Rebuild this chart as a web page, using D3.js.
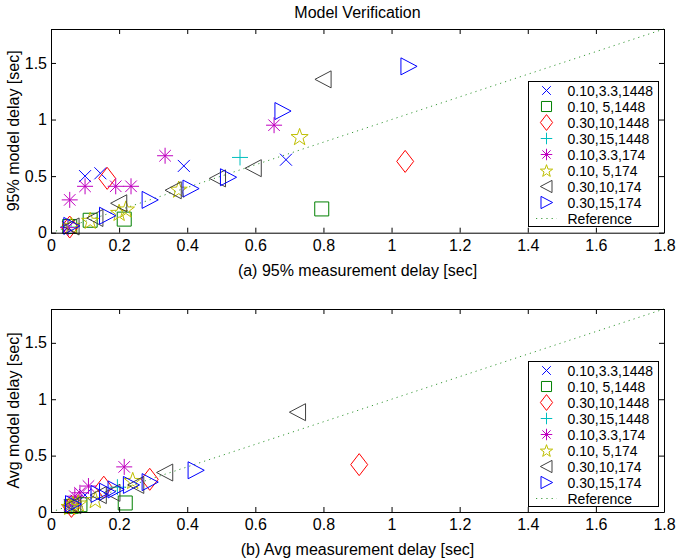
<!DOCTYPE html>
<html>
<head>
<meta charset="utf-8">
<script src="https://cdn.jsdelivr.net/npm/d3@7"></script>
<style>
body { margin: 0; background: #fff; }
svg { display: block; font-family: "Liberation Sans", Arial, sans-serif; }
</style>
</head>
<body>
<svg id="fig" width="677" height="559"></svg>
<script>
var svg = d3.select('#fig')

var names = ["0.10,3.3,1448", "0.10, 5,1448", "0.30,10,1448", "0.30,15,1448",
    "0.10,3.3,174", "0.10, 5,174", "0.30,10,174", "0.30,15,174"]
var colors = ["#0000ff", "#008000", "#ff0000", "#00bfbf", "#bf00bf", "#bfbf00", "#404040", "#0000ff"]
var shapes = ["x", "s", "d", "+", "*", "p", "<", ">"]
var xTicks = [0, 0.2, 0.4, 0.6, 0.8, 1, 1.2, 1.4, 1.6, 1.8]
var yTicks = [0, 0.5, 1, 1.5]
var refLine = [0, 1.8]

// (a) 95% delays, one list per series
var meas95 = [
    [0.05, 0.10, 0.145, 0.39, 0.69],
    [0.055, 0.115, 0.215, 0.795],
    [0.055, 0.165, 1.04],
    [0.05, 0.555],
    [0.05, 0.055, 0.10, 0.19, 0.235, 0.335, 0.655],
    [0.06, 0.115, 0.20, 0.22, 0.375, 0.73],
    [0.06, 0.13, 0.20, 0.36, 0.49, 0.595, 0.80],
    [0.06, 0.165, 0.29, 0.41, 0.52, 0.68, 1.05]
]
var model95 = [
    [0.05, 0.50, 0.525, 0.59, 0.645],
    [0.055, 0.11, 0.12, 0.21],
    [0.05, 0.48, 0.63],
    [0.05, 0.665],
    [0.045, 0.29, 0.41, 0.41, 0.41, 0.68, 0.95],
    [0.065, 0.11, 0.18, 0.21, 0.385, 0.85],
    [0.055, 0.13, 0.26, 0.375, 0.48, 0.57, 1.355],
    [0.06, 0.15, 0.29, 0.39, 0.49, 1.075, 1.47]
]

// (b) average delays
var measAvg = [
    [0.06, 0.075, 0.10],
    [0.06, 0.085, 0.218],
    [0.06, 0.155, 0.29, 0.905],
    [0.06, 0.195],
    [0.055, 0.07, 0.085, 0.11, 0.215],
    [0.055, 0.065, 0.08, 0.13, 0.24],
    [0.065, 0.14, 0.18, 0.25, 0.335, 0.725],
    [0.065, 0.14, 0.165, 0.19, 0.235, 0.29, 0.425]
]
var modelAvg = [
    [0.06, 0.10, 0.15],
    [0.05, 0.065, 0.08],
    [0.05, 0.22, 0.29, 0.42],
    [0.06, 0.22],
    [0.06, 0.14, 0.17, 0.23, 0.40],
    [0.05, 0.07, 0.08, 0.11, 0.28],
    [0.06, 0.15, 0.17, 0.24, 0.35, 0.885],
    [0.07, 0.16, 0.18, 0.20, 0.24, 0.265, 0.37]
]

// matlab-like marker outlines, size = half width in px
var markerType = {
    "x": { draw: function (c, r) { c.moveTo(-r, -r); c.lineTo(r, r); c.moveTo(-r, r); c.lineTo(r, -r) } },
    "s": { draw: function (c, r) { c.rect(-r, -r, 2 * r, 2 * r) } },
    "d": { draw: function (c, r) { var w = r * 0.77; c.moveTo(0, -r); c.lineTo(w, 0); c.lineTo(0, r); c.lineTo(-w, 0); c.closePath() } },
    "+": { draw: function (c, r) { c.moveTo(-r, 0); c.lineTo(r, 0); c.moveTo(0, -r); c.lineTo(0, r) } },
    "*": { draw: function (c, r) {
        var k = r * 0.72
        c.moveTo(-r, 0); c.lineTo(r, 0); c.moveTo(0, -r); c.lineTo(0, r)
        c.moveTo(-k, -k); c.lineTo(k, k); c.moveTo(-k, k); c.lineTo(k, -k)
    } },
    "p": { draw: function (c, r) {
        for (var i = 0; i < 10; i++) {
            var a = -Math.PI / 2 + i * Math.PI / 5, rr = i % 2 ? r * 0.4 : r
            if (i == 0) c.moveTo(rr * Math.cos(a), rr * Math.sin(a) + r * 0.1)
            else c.lineTo(rr * Math.cos(a), rr * Math.sin(a) + r * 0.1)
        }
        c.closePath()
    } },
    "<": { draw: function (c, r) { c.moveTo(-r, 0); c.lineTo(r * 0.9, -r); c.lineTo(r * 0.9, r); c.closePath() } },
    ">": { draw: function (c, r) { c.moveTo(r, 0); c.lineTo(-r * 0.9, -r); c.lineTo(-r * 0.9, r); c.closePath() } }
}
var markerR = { "x": 6, "s": 7, "d": 11, "+": 8, "*": 8, "p": 9, "<": 8.5, ">": 8.5 }

function drawPanel(cfg) {
    var x = d3.scaleLinear().domain([0, 1.8]).range([51, 664])
    var y = d3.scaleLinear().domain([0, 1.8]).range([cfg.bottom, cfg.top])
    var g = svg.append("g")

    g.append("line")
        .attr("x1", x(refLine[0])).attr("y1", y(refLine[0]))
        .attr("x2", x(refLine[1])).attr("y2", y(refLine[1]))
        .attr("stroke", "#3a9a3a")
        .attr("stroke-width", 1)
        .attr("stroke-dasharray", "1.2,4")

    names.forEach(function (n, i) {
        g.selectAll(null)
            .data(d3.zip(cfg.xs[i], cfg.ys[i]))
            .enter()
            .append("path")
            .attr("transform", function (d) { return "translate(" + x(d[0]) + "," + y(d[1]) + ")" })
            .attr("d", d3.symbol().type(markerType[shapes[i]]).size(markerR[shapes[i]]))
            .attr("fill", "none")
            .attr("stroke", colors[i])
            .attr("stroke-width", 1)
    })

    var fmt = d3.format("~g")
    var axes = [
        [d3.axisBottom(x).tickValues(xTicks).tickFormat(fmt).tickPadding(7), "translate(0," + cfg.bottom + ")"],
        [d3.axisTop(x).tickValues(xTicks).tickFormat(""), "translate(0," + cfg.top + ")"],
        [d3.axisLeft(y).tickValues(yTicks).tickFormat(fmt).tickPadding(4), "translate(51,0)"],
        [d3.axisRight(y).tickValues(yTicks).tickFormat(""), "translate(664,0)"]
    ]
    axes.forEach(function (a) {
        var ax = g.append("g")
            .attr("transform", a[1])
            .call(a[0].tickSizeInner(-5).tickSizeOuter(0))
        ax.attr("font-family", null).attr("font-size", null)
        ax.selectAll("text").style("font-size", "16px").attr("fill", "#000")
        ax.selectAll("line, path").attr("stroke", "#000")
    })

    svg.append("text")
        .attr("x", 357.5)
        .attr("y", cfg.bottom + 43)
        .attr("text-anchor", "middle")
        .style("font-size", "16px")
        .text(cfg.xlabel)

    svg.append("text")
        .attr("transform", "translate(19," + ((cfg.top + cfg.bottom) / 2) + ") rotate(-90)")
        .attr("text-anchor", "middle")
        .style("font-size", "16px")
        .text(cfg.ylabel)

    // legend
    var lg = svg.append("g").attr("transform", "translate(528," + cfg.legTop + ")")
    lg.append("rect")
        .attr("x", 0.5).attr("y", 0.5)
        .attr("width", 130).attr("height", 145)
        .attr("fill", "#fff").attr("stroke", "#000")
    names.forEach(function (n, i) {
        var cy = 9.5 + i * 16
        lg.append("path")
            .attr("transform", "translate(18.5," + cy + ")")
            .attr("d", d3.symbol().type(markerType[shapes[i]]).size(markerR[shapes[i]] * 0.72))
            .attr("fill", "none")
            .attr("stroke", colors[i])
        lg.append("text")
            .attr("x", 39.5).attr("y", cy + 5)
            .style("font-size", "14px")
            .text(n)
    })
    var ry = 9.5 + 8 * 16
    lg.append("line")
        .attr("x1", 8).attr("x2", 29).attr("y1", ry).attr("y2", ry)
        .attr("stroke", "#3a9a3a")
        .attr("stroke-dasharray", "1.2,4")
    lg.append("text")
        .attr("x", 39.5).attr("y", ry + 5)
        .style("font-size", "14px")
        .text("Reference")
}

svg.append("text")
    .attr("x", 357.5)
    .attr("y", 18)
    .attr("text-anchor", "middle")
    .style("font-size", "16px")
    .text("Model Verification")

drawPanel({ top: 29, bottom: 232.7, legTop: 81, xs: meas95, ys: model95,
    xlabel: "(a) 95% measurement delay [sec]", ylabel: "95% model delay [sec]" })
drawPanel({ top: 309, bottom: 512, legTop: 361, xs: measAvg, ys: modelAvg,
    xlabel: "(b) Avg measurement delay [sec]", ylabel: "Avg model delay [sec]" })
</script>
</body>
</html>
